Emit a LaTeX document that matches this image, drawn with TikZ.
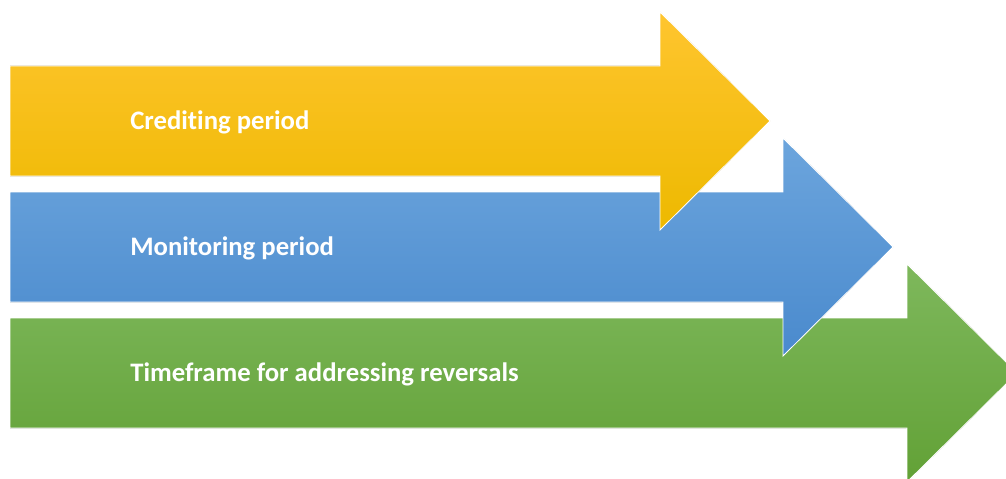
\documentclass[tikz,border=0pt]{standalone}
\usepackage{fontspec}
\setmainfont{Carlito}[Ligatures=NoCommon]
\definecolor{goldtop}{HTML}{FFC52F}
\definecolor{goldmid}{HTML}{FFC000}
\definecolor{goldbot}{HTML}{EDB900}
\definecolor{bluetop}{HTML}{6CA5DD}
\definecolor{bluemid}{HTML}{5B9BD5}
\definecolor{bluebot}{HTML}{4A8ACD}
\definecolor{greentop}{HTML}{7EB85C}
\definecolor{greenmid}{HTML}{70AD47}
\definecolor{greenbot}{HTML}{62A136}
\tikzset{
	phase/.style={draw=white, line width=0.6pt, line join=miter},
	goldphase/.style={phase, top color=goldtop, middle color=goldmid, bottom color=goldbot},
	bluephase/.style={phase, top color=bluetop, middle color=bluemid, bottom color=bluebot},
	greenphase/.style={phase, top color=greentop, middle color=greenmid, bottom color=greenbot},
	phasetext/.style={anchor=base west, inner sep=0pt, text=white, font=\bfseries\fontsize{19}{22}\selectfont}
}
\begin{document}
\begin{tikzpicture}[x=0.025cm, y=-0.025cm]
	\useasboundingbox (0,0) rectangle (1006,479);
	\clip (0,0) rectangle (1006,479);
	\filldraw[greenphase] (10,318)--(907,318)--(907,264)--(1017,373)--(907,482)--(907,428)--(10,428)--cycle;
	\filldraw[bluephase] (10,192)--(783,192)--(783,138)--(893,247)--(783,356)--(783,302)--(10,302)--cycle;
	\filldraw[goldphase] (10,66)--(660,66)--(660,12)--(770,121)--(660,230)--(660,176)--(10,176)--cycle;
	\node[phasetext] (crediting) at (130,129) {Crediting period};
	\node[phasetext] (monitoring) at (130,255) {Monitoring period};
	\node[phasetext] (timeframe) at (130,381) {Timeframe for addressing reversals};
\end{tikzpicture}
\end{document}
